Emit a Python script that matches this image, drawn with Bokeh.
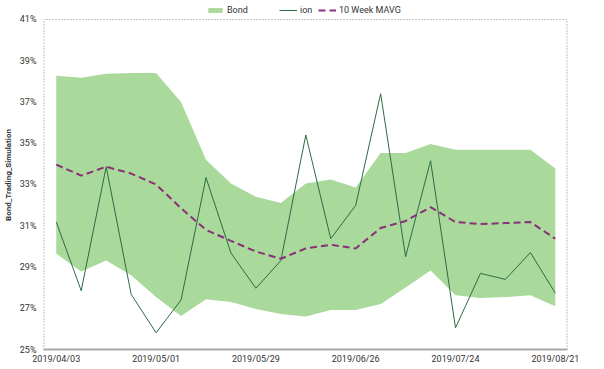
import pandas as pd
from bokeh.plotting import figure
from bokeh.models import FixedTicker, PrintfTickFormatter, DatetimeTickFormatter, Legend, LegendItem, Range1d
from bokeh.embed import file_html
from bokeh.resources import INLINE

dates = pd.date_range("2019-04-03", periods=21, freq="7D")
band_upper = [38.27, 38.17, 38.37, 38.41, 38.41, 37.0, 34.2, 33.05, 32.4, 32.1, 33.05,
              33.24, 32.86, 34.53, 34.53, 34.96, 34.68, 34.68, 34.68, 34.68, 33.77]
band_lower = [29.65, 28.78, 29.31, 28.6, 27.54, 26.63, 27.44, 27.3, 26.96, 26.72, 26.6,
              26.92, 26.92, 27.2, 28.0, 28.83, 27.63, 27.5, 27.54, 27.63, 27.1]
ion = [31.18, 27.85, 33.86, 27.68, 25.81, 27.4, 33.33, 29.68, 27.97, 29.31, 35.4,
       30.37, 31.99, 37.4, 29.5, 34.15, 26.05, 28.69, 28.4, 29.7, 27.73]
mavg = [33.96, 33.43, 33.86, 33.53, 33.0, 31.85, 30.8, 30.27, 29.75, 29.4, 29.9,
        30.08, 29.9, 30.89, 31.23, 31.9, 31.18, 31.08, 31.13, 31.18, 30.37]
x_ticks = ["2019-04-03", "2019-05-01", "2019-05-29", "2019-06-26", "2019-07-24", "2019-08-21"]
y_ticks = [25, 27, 29, 31, 33, 35, 37, 39, 41]

FONT = "Roboto"
FH = 349
X_LO = pd.Timestamp("2019-03-30 10:00")
X_HI = pd.Timestamp("2019-08-24 10:00")
Y_LO, Y_TOP = y_ticks[0], y_ticks[-1]
Y_HI = 41.92  # headroom above the plot box for the legend

p = figure(frame_width=524, frame_height=FH, output_backend="svg", toolbar_location=None,
           x_axis_type="datetime",
           min_border_left=39, min_border_right=25, min_border_top=0, min_border_bottom=0)
p.x_range = Range1d(X_LO, X_HI)
p.y_range = Range1d(Y_LO, Y_HI)

r_band = p.varea(x=dates, y1=band_lower, y2=band_upper, fill_color="#a9d99b", fill_alpha=1)
r_ion = p.line(dates, ion, line_color="#2e6b45", line_width=1)
r_mavg = p.line(dates, mavg, line_color="#8a2f78", line_width=2, line_dash="7 4")

# dotted plot box (top, left, right)
p.segment(x0=[X_LO], y0=[Y_TOP], x1=[X_HI], y1=[Y_TOP], line_color="#888888", line_width=1, line_dash="1 2")
p.segment(x0=[X_LO, X_HI], y0=[Y_LO, Y_LO], x1=[X_LO, X_HI], y1=[Y_TOP, Y_TOP],
          line_color="#888888", line_width=2, line_dash="1 2")

p.xgrid.visible = False
p.ygrid.visible = False
p.outline_line_color = None

p.xaxis.ticker = FixedTicker(ticks=[pd.Timestamp(d).value / 1e6 for d in x_ticks])
p.xaxis.formatter = DatetimeTickFormatter(days="%Y/%m/%d", months="%Y/%m/%d")
p.xaxis.axis_line_color = "#aaaaaa"
p.xaxis.axis_line_width = 2
p.xaxis.major_tick_line_color = None
p.xaxis.minor_tick_line_color = None
p.xaxis.major_tick_out = 0
p.xaxis.major_tick_in = 0
p.xaxis.minor_tick_out = 0
p.xaxis.major_label_standoff = 4

p.yaxis.ticker = FixedTicker(ticks=y_ticks)
p.yaxis.formatter = PrintfTickFormatter(format="%d%%")
p.yaxis.axis_line_color = None
p.yaxis.major_tick_line_color = None
p.yaxis.minor_tick_line_color = None
p.yaxis.major_tick_out = 0
p.yaxis.minor_tick_out = 0
p.yaxis.major_label_standoff = 7
p.yaxis.axis_label = "Bond_Trading_Simulation"
p.yaxis.axis_label_text_font_style = "bold"
p.yaxis.axis_label_text_font_size = "8px"
p.yaxis.axis_label_standoff = 4

for ax in (p.xaxis, p.yaxis):
    ax.major_label_text_font = FONT
    ax.major_label_text_font_size = "9px"
    ax.major_label_text_color = "#333333"
    ax.axis_label_text_font = FONT
    ax.axis_label_text_color = "#333333"

legend_items = [("Bond", r_band, 163), ("ion", r_ion, 236), ("10 Week MAVG", r_mavg, 275)]
for label, rend, lx in legend_items:
    lg = Legend(items=[LegendItem(label=label, renderers=[rend])],
                orientation="horizontal", location=(lx, FH - 15),
                background_fill_alpha=0, border_line_color=None,
                label_text_font=FONT, label_text_font_size="9px", label_text_color="#333333",
                glyph_width=18, glyph_height=6, label_standoff=3, spacing=0,
                padding=0, margin=0, label_height=10)
    p.add_layout(lg, "center")

open("out.html", "w").write(file_html(p, INLINE))
